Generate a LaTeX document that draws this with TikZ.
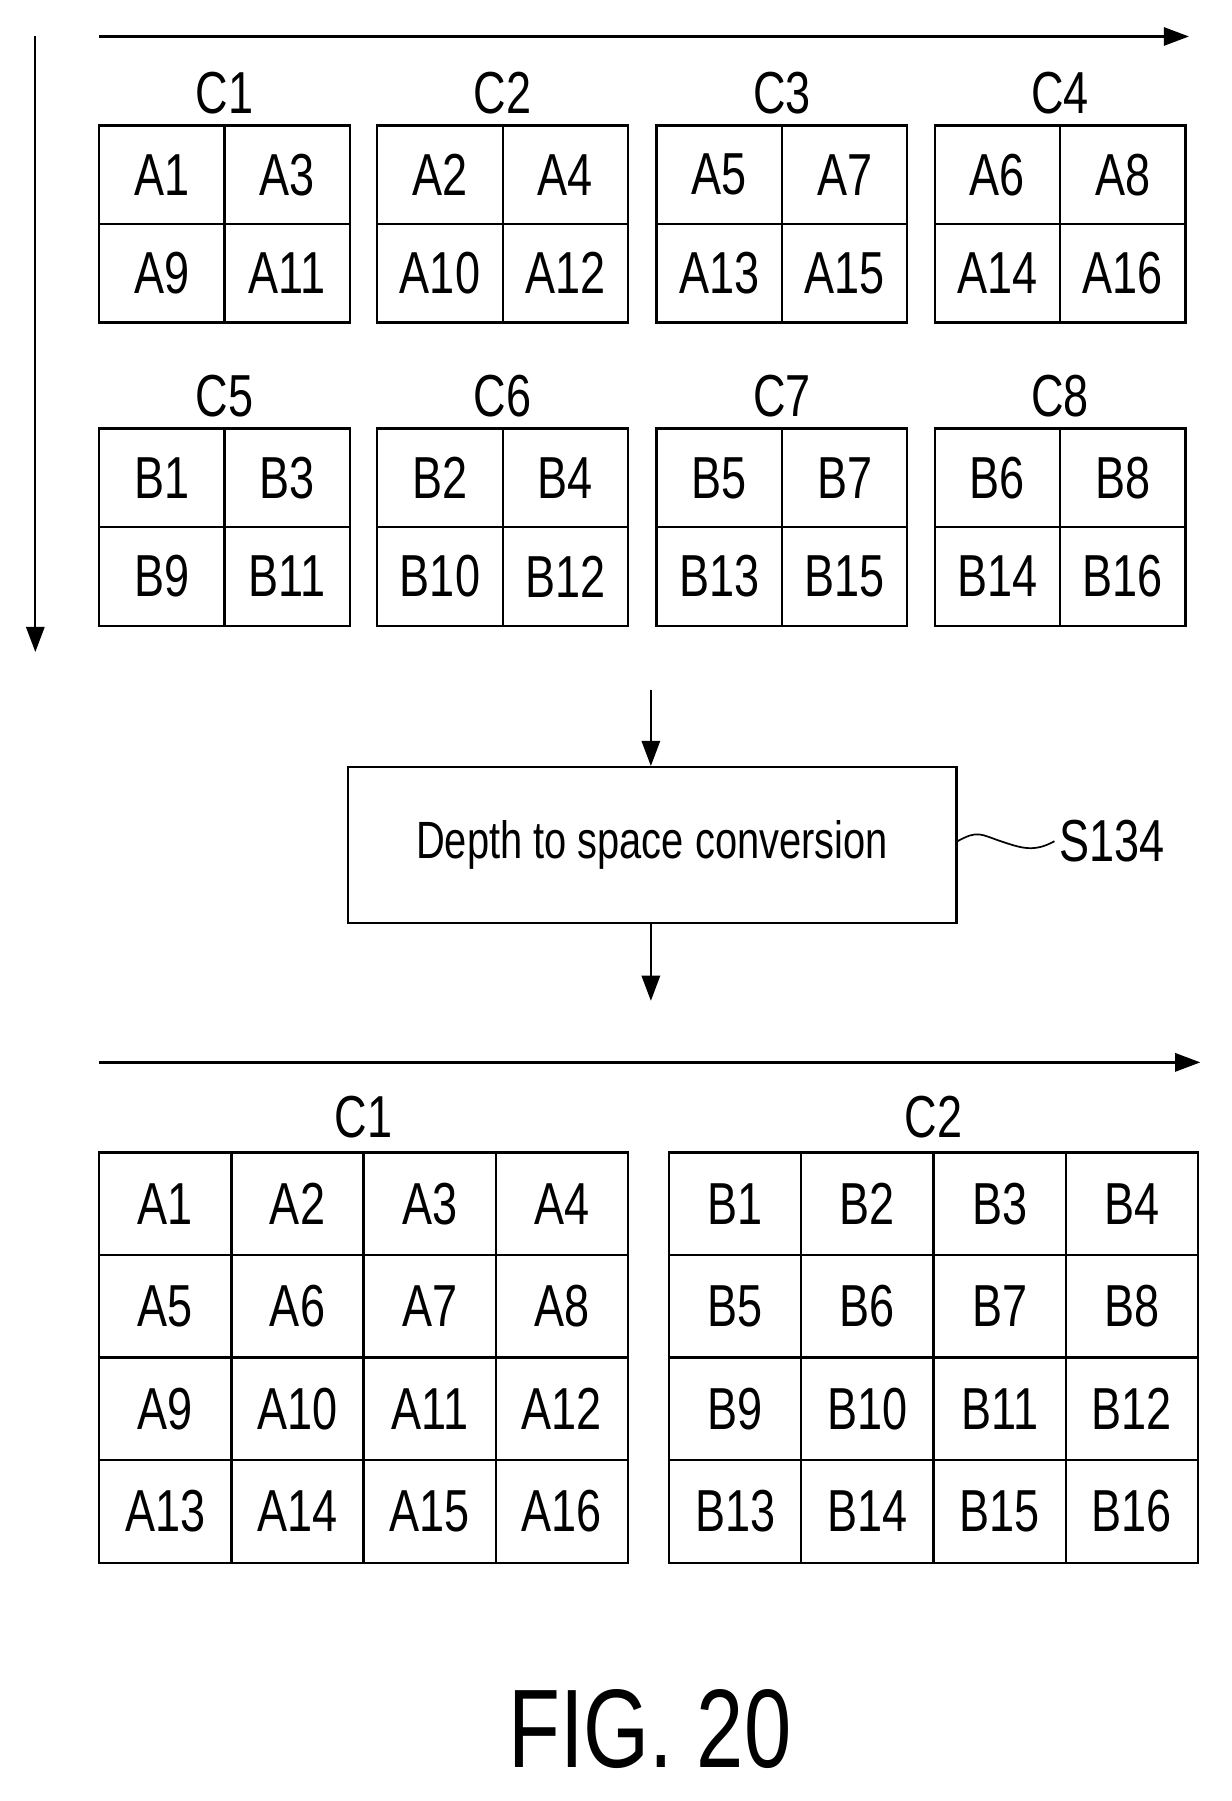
\documentclass[tikz,border=0pt]{standalone}
\usepackage{fontspec}
\setmainfont{Liberation Sans}[FakeStretch=0.76]
\usetikzlibrary{arrows.meta,positioning}

\begin{document}
\begin{tikzpicture}[x=1pt,y=-1pt,
  line width=2pt,
  cell/.style={draw,minimum width=110pt,minimum height=86.5pt,inner sep=0pt,outer sep=0pt,font=\fontsize{52}{52}\selectfont},
  bigcell/.style={draw,minimum width=116pt,minimum height=90pt,inner sep=0pt,outer sep=0pt,font=\fontsize{52}{52}\selectfont},
  lbl/.style={font=\fontsize{52}{52}\selectfont},
  arr/.style={-{Triangle[length=22pt,width=16pt]}}]
\useasboundingbox (0,0) rectangle (1080,1580);

% axes of the top block
\coordinate (ht0) at (87,32);
\coordinate (ht1) at (1043,32);
\coordinate (vt0) at (31,32);
\coordinate (vt1) at (31,572);
\draw[arr] (ht0) -- (ht1);
\draw[arr] (vt0) -- (vt1);

% eight 2x2 channels
\foreach \n/\x/\y/\p/\q/\r/\s in {
  1/87/110/A1/A3/A9/A11, 2/331/110/A2/A4/A10/A12,
  3/576/110/A5/A7/A13/A15, 4/820/110/A6/A8/A14/A16,
  5/87/376/B1/B3/B9/B11, 6/331/376/B2/B4/B10/B12,
  7/576/376/B5/B7/B13/B15, 8/820/376/B6/B8/B14/B16}{
  \node[cell] (c\n a) at (\x+55,\y+43.25) {\p};
  \node[cell,right=0pt of c\n a] (c\n b) {\q};
  \node[cell,below=0pt of c\n a] (c\n c) {\r};
  \node[cell,right=0pt of c\n c] (c\n d) {\s};
  \node[lbl,anchor=south] (t\n) at (\x+110,\y-6) {C\n};
}

% conversion step
\node[draw,minimum width=534pt,minimum height=137pt,inner sep=0pt,
  font=\fontsize{46}{46}\selectfont] (conv) at (572,741.5) {Depth to space conversion};
\coordinate (in) at (571,605);
\coordinate (out) at (571,878);
\draw[arr] (in) -- (conv.north -| in);
\draw[arr] (conv.south -| out) -- (out);
\node[lbl,anchor=west] (step) at (925,738) {S134};
\draw[line width=1.5pt] (conv.east |- step.west) +(0,0)
  .. controls +(18,-10) and +(-18,-6) .. ++(38,0)
  .. controls +(18,6) and +(-18,10) .. (step.west);

% axis of the bottom block
\coordinate (hb0) at (87,932);
\coordinate (hb1) at (1053,932);
\draw[arr] (hb0) -- (hb1);

% two 4x4 channels
\foreach \g/\x in {A/87,B/587}{
  \foreach \i in {1,...,4}{
    \foreach \j in {1,...,4}{
      \pgfmathtruncatemacro{\k}{(\i-1)*4+\j}
      \node[bigcell] (\g\k) at (\x+\j*116-58,1011+\i*90-45) {\g\k};
    }
  }
}
\node[lbl,anchor=south] (d1) at (A2.north east) [yshift=8pt] {C1};
\node[lbl,anchor=south] (d2) at (B2.north east) [yshift=8pt] {C2};

\node[font=\fontsize{98}{98}\selectfont] (fig) at (570,1517) {FIG. 20};
\end{tikzpicture}
\end{document}
